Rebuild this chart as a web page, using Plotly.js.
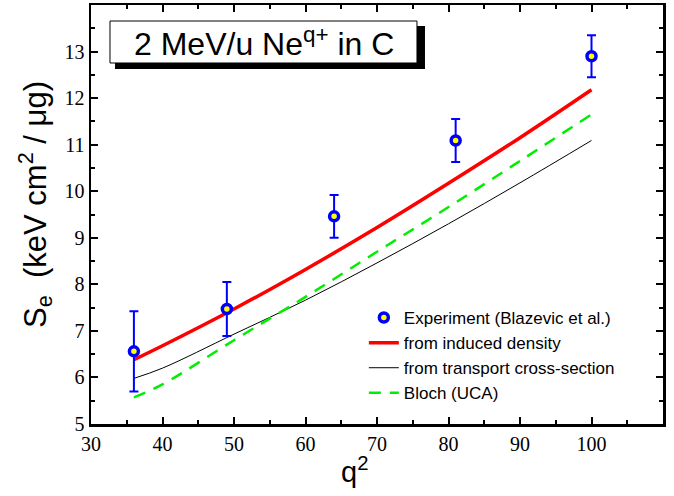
<!DOCTYPE html>
<html>
<head>
<meta charset="utf-8">
<script src="https://cdn.plot.ly/plotly-3.0.1.min.js"></script>
<style>html,body{margin:0;padding:0;background:#fff;}#chart{width:674px;height:496px;}</style>
</head>
<body>
<div id="chart"></div>
<script>
const qExp = [36, 49, 64, 81, 100];
const seExp = [6.56, 7.47, 9.46, 11.09, 12.90];
const errExp = [0.86, 0.58, 0.46, 0.46, 0.45];
const qTheory = [36, 40, 50, 60, 70, 80, 90, 100];
const seInduced = [6.38, 6.68, 7.47, 8.32, 9.22, 10.17, 11.15, 12.18];
const seTransport = [5.98, 6.20, 6.93, 7.66, 8.46, 9.30, 10.18, 11.09];
const seBloch = [5.57, 5.85, 6.80, 7.73, 8.70, 9.66, 10.65, 11.65];
const xTickVals = [30, 40, 50, 60, 70, 80, 90, 100];
const yTickVals = [5, 6, 7, 8, 9, 10, 11, 12, 13];
const legendNames = ['Experiment (Blazevic et al.)', 'from induced density', 'from transport cross-section', 'Bloch (UCA)'];

const SERIF = 'Liberation Serif, Times New Roman, serif';
const SANS = 'Liberation Sans, Arial, sans-serif';

const traces = [
  {x: qTheory, y: seInduced, mode: 'lines', name: legendNames[1], legendrank: 2,
   line: {color: '#ff0000', width: 3.5, shape: 'spline'}},
  {x: qTheory, y: seTransport, mode: 'lines', name: legendNames[2], legendrank: 3,
   line: {color: '#000000', width: 1, shape: 'spline'}},
  {x: qTheory, y: seBloch, mode: 'lines', name: legendNames[3], legendrank: 4,
   line: {color: '#00ee00', width: 2.5, dash: '12px,9px', shape: 'spline'}},
  {x: qExp, y: seExp, mode: 'markers', name: legendNames[0], legendrank: 1,
   error_y: {type: 'data', array: errExp, visible: true, color: '#0000ff', thickness: 2, width: 4.5},
   marker: {symbol: 'circle', size: 9, color: '#ffff00', line: {color: '#0000ff', width: 3.5}}}
];

const layout = {
  width: 674, height: 496,
  margin: {l: 91, r: 11, t: 5, b: 72, pad: 0},
  paper_bgcolor: '#fff', plot_bgcolor: '#fff',
  font: {family: SANS, size: 16, color: '#000'},
  showlegend: true,
  xaxis: {
    range: [30, 110], tickmode: 'array', tickvals: xTickVals,
    showline: true, linecolor: '#000', linewidth: 2.5, mirror: 'ticks',
    ticks: 'inside', ticklen: 7, tickwidth: 2, tickcolor: '#000',
    showgrid: false, zeroline: false,
    tickfont: {family: SERIF, size: 20, color: '#000'}
  },
  yaxis: {
    range: [5, 14], tickmode: 'array', tickvals: yTickVals,
    showline: true, linecolor: '#000', linewidth: 2.5, mirror: 'ticks',
    ticks: 'inside', ticklen: 7, tickwidth: 2, tickcolor: '#000',
    showgrid: false, zeroline: false,
    tickfont: {family: SERIF, size: 20, color: '#000'}
  },
  xaxis2: {
    overlaying: 'x', matches: 'x', range: [30, 110], tickmode: 'linear', tick0: 35, dtick: 10,
    ticks: 'inside', ticklen: 4, tickwidth: 2, tickcolor: '#000', mirror: 'ticks',
    showticklabels: false, showgrid: false, zeroline: false, showline: false
  },
  yaxis2: {
    overlaying: 'y', matches: 'y', range: [5, 14], tickmode: 'linear', tick0: 5.5, dtick: 1,
    ticks: 'inside', ticklen: 4, tickwidth: 2, tickcolor: '#000', mirror: 'ticks',
    showticklabels: false, showgrid: false, zeroline: false, showline: false
  },
  legend: {
    x: 0.477, y: 0.296, xanchor: 'left', yanchor: 'top',
    bgcolor: 'rgba(0,0,0,0)', borderwidth: 0, tracegroupgap: 0,
    font: {family: SANS, size: 17, color: '#000'}
  },
  shapes: [
    {type: 'rect', xref: 'paper', yref: 'paper', x0: 0.042, x1: 0.5839, y0: 0.8473, y1: 0.9499,
     fillcolor: '#000', line: {width: 0}, layer: 'above'},
    {type: 'rect', xref: 'paper', yref: 'paper', x0: 0.0332, x1: 0.5699, y0: 0.8616, y1: 0.9618,
     fillcolor: '#fff', line: {color: '#000', width: 1}, layer: 'above'}
  ],
  annotations: [
    {xref: 'paper', yref: 'paper', x: 0.3016, y: 0.912, xanchor: 'center', yanchor: 'middle',
     text: '2 MeV/u Ne<sup>q+</sup> in C', showarrow: false,
     font: {family: SANS, size: 32, color: '#000'}},
    {xref: 'paper', yref: 'paper', x: -0.098, y: 0.525, xanchor: 'center', yanchor: 'middle',
     textangle: -90, text: 'S<sub>e</sub>  (keV cm<sup>2</sup> / \u03bcg)', showarrow: false,
     font: {family: SANS, size: 31, color: '#000'}},
    {xref: 'paper', yref: 'paper', x: 0.46, y: -0.11, xanchor: 'center', yanchor: 'middle',
     text: 'q<sup>2</sup>', showarrow: false,
     font: {family: SANS, size: 29, color: '#000'}}
  ]
};

// invisible helper trace so the overlay axes for minor ticks are drawn
traces.push({x: [qExp[0]], y: [seExp[0]], xaxis: 'x2', yaxis: 'y2', mode: 'markers',
  marker: {opacity: 0}, showlegend: false, hoverinfo: 'skip'});

Plotly.newPlot('chart', traces, layout, {displayModeBar: false, staticPlot: true});
</script>
</body>
</html>
